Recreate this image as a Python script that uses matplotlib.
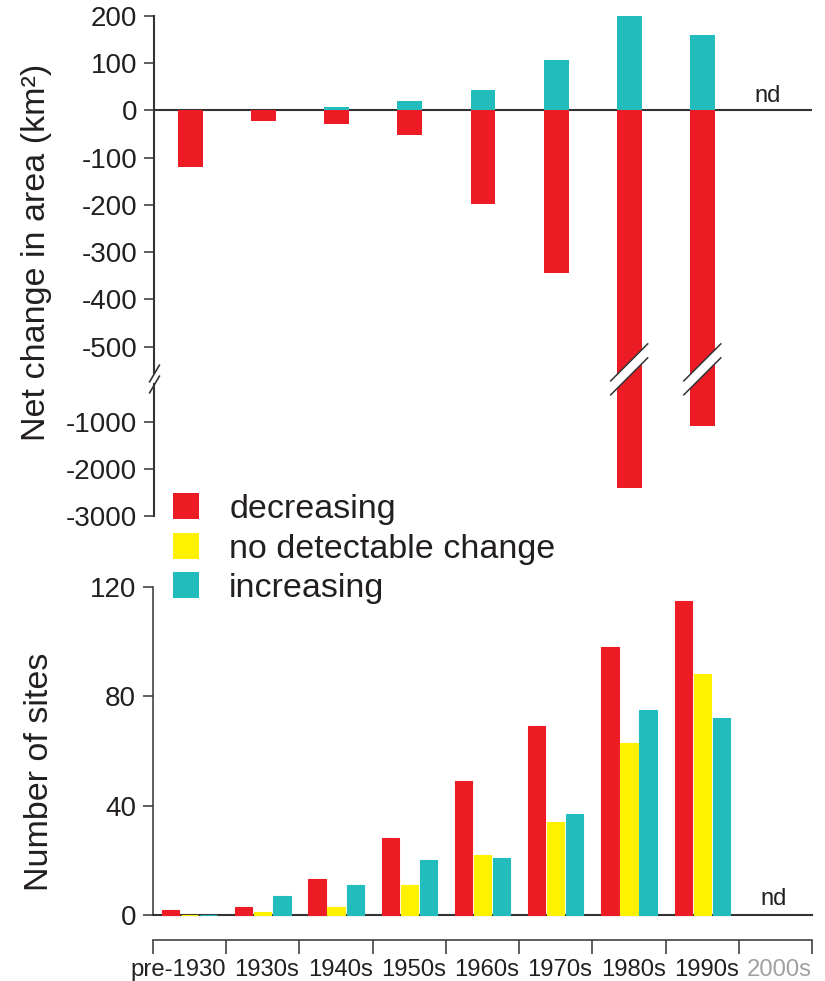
import numpy as np
import matplotlib
matplotlib.use('Agg')
import matplotlib.pyplot as plt
from matplotlib.patches import Polygon, Patch
from matplotlib.lines import Line2D
from matplotlib.transforms import ScaledTranslation

plt.rcParams['font.family'] = ['Liberation Sans', 'DejaVu Sans']
plt.rcParams['axes.unicode_minus'] = False

decades = ['pre-1930', '1930s', '1940s', '1950s', '1960s',
           '1970s', '1980s', '1990s', '2000s']

# net change in area (km2), no data for the 2000s
area_loss = [-120, -23, -29, -53, -198, -345, -2400, -1100]
area_gain = [1, 1, 8, 20, 42, 106, 200, 160]

# number of sites in each class
n_decreasing = [2, 3, 13, 28, 49, 69, 98, 115]
n_nochange = [0, 1, 3, 11, 22, 34, 63, 88]
n_increasing = [0, 7, 11, 20, 21, 37, 75, 72]

area_ticks = [200, 100, 0, -100, -200, -300, -400, -500, -1000, -2000, -3000]
site_ticks = [0, 40, 80, 120]

RED = '#ED1C24'
YEL = '#FFF200'
TEAL = '#23BCBC'
INK = '#231F20'
AXC = '#333333'

# broken y axis: fine scale above -540, squeezed below -1000
brk_vals = [-3000, -1000, -540, 200]
brk_pos = [-516, -421.7, -365.7, -15.7]


def fwd(v):
    return np.interp(v, brk_vals, brk_pos)


def inv(p):
    return np.interp(p, brk_pos, brk_vals)


fig = plt.figure(figsize=(8.25, 9.81), dpi=100)

# ---- top: net change in area ----
ax1 = fig.add_axes([0.1867, 0.474, 0.7975, 0.510])
ax1.set_yscale('function', functions=(fwd, inv))
x = np.arange(len(area_loss))
ax1.bar(x, area_gain, width=0.34, color=TEAL, zorder=2)
ax1.bar(x, area_loss, width=0.34, color=RED, zorder=2)
ax1.axhline(0, color=AXC, lw=1.5, zorder=1)
ax1.set_xlim(-0.5, 8.5)
ax1.set_ylim(-3000, 200)
ax1.set_yticks(area_ticks, labels=[str(t) for t in area_ticks])
ax1.yaxis.set_minor_locator(matplotlib.ticker.NullLocator())
ax1.set_xticks([])
for s in ax1.spines.values():
    s.set_visible(False)
ax1.tick_params(axis='y', length=7.2, width=1.1, color=AXC,
                labelsize=20, labelcolor=INK, pad=5)

# left spine drawn in two pieces with the break marks
yt = ax1.get_yaxis_transform()
ax1.plot([0, 0], [200, -600], color=AXC, lw=1.5, transform=yt, clip_on=False)
ax1.plot([0, 0], [-690, -3000], color=AXC, lw=1.5, transform=yt, clip_on=False)
ax1.plot([0, 0], [-600, -690], ls='none', marker=[(-1, -1.7), (1, 1.7)],
         ms=13, mec=AXC, mew=1.2, transform=yt, clip_on=False)

# white // across the bars that run through the break
brk = -570
for i, v in enumerate(area_loss):
    if v < brk:
        tr = fig.dpi_scale_trans + ScaledTranslation(i, brk, ax1.transData)
        ax1.add_patch(Polygon([(-0.185, -0.255), (0.185, 0.115),
                               (0.185, 0.255), (-0.185, -0.115)],
                              closed=True, fc='white', ec='none',
                              transform=tr, clip_on=False, zorder=3))
        for d in (-0.07, 0.07):
            ax1.add_line(Line2D([-0.185, 0.185], [-0.185 + d, 0.185 + d],
                                color=AXC, lw=1.1, transform=tr,
                                clip_on=False, zorder=4))

ax1.text(7.9, 8, 'nd', ha='center', va='bottom', fontsize=17, color=INK)
ax1.set_ylabel('Net change in area (km²)', fontsize=24.5, color=INK)
ax1.yaxis.set_label_coords(-0.155, 0.526)

# ---- bottom: number of sites ----
ax2 = fig.add_axes([0.1855, 0.0673, 0.7988, 0.3343])
off = 0.26
for dx, vals, col in ((-off, n_decreasing, RED), (0, n_nochange, YEL),
                      (off, n_increasing, TEAL)):
    ax2.bar(x + dx, vals, width=0.235, color=col, edgecolor=col,
            linewidth=0.8, zorder=2, clip_on=False)
ax2.axhline(0, color=AXC, lw=1.5, zorder=1, clip_on=False)
ax2.set_xlim(-0.5, 8.5)
ax2.set_ylim(0, 120)
ax2.set_yticks(site_ticks)
ax2.spines['top'].set_visible(False)
ax2.spines['right'].set_visible(False)
ax2.spines['left'].set_bounds(0, 120)
ax2.spines['bottom'].set_position(('outward', 18))
ax2.spines['bottom'].set_bounds(-0.5, 8.5)
for s in ('left', 'bottom'):
    ax2.spines[s].set_color(AXC)
    ax2.spines[s].set_linewidth(1.1)

# decade names sit to the left of each boundary tick
ax2.set_xticks(np.arange(-0.5, 9, 1), labels=[''] + decades)
for lab in ax2.get_xticklabels():
    lab.set_horizontalalignment('right')
    lab.set_color(INK)
ax2.get_xticklabels()[-1].set_color('#A0A0A0')
ax2.tick_params(axis='x', length=10, width=1.1, color=AXC,
                labelsize=17.2, pad=4)
ax2.tick_params(axis='y', length=7.2, width=1.1, color=AXC,
                labelsize=20, labelcolor=INK, pad=5)
ax2.text(7.98, 2, 'nd', ha='center', va='bottom', fontsize=17, color=INK)
ax2.set_ylabel('Number of sites', fontsize=24.5, color=INK)
ax2.yaxis.set_label_coords(-0.149, 0.4375)

fig.legend(handles=[Patch(fc=RED), Patch(fc=YEL), Patch(fc=TEAL)],
           labels=['decreasing', 'no detectable change', 'increasing'],
           loc='upper left', bbox_to_anchor=(173 / 825, 1 - 493 / 981),
           frameon=False, fontsize=24.5, handlelength=0.75, handleheight=0.8,
           handletextpad=0.9, labelspacing=0.23, borderpad=0,
           borderaxespad=0, labelcolor=INK)

fig.savefig('out.png', dpi=100)
